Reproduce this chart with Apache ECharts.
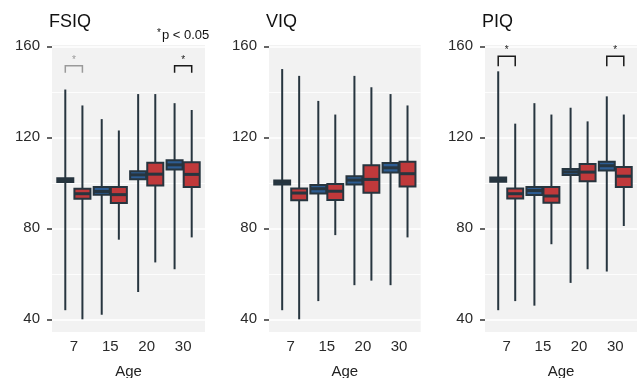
<!DOCTYPE html>
<html>
<head>
<meta charset="utf-8">
<script src="https://cdn.jsdelivr.net/npm/echarts@6/dist/echarts.min.js"></script>
<style>
  html, body { margin: 0; padding: 0; background: #fff; }
  #chart { width: 641px; height: 378px; }
</style>
</head>
<body>
<div id="chart"></div>
<script>
const ages = ["7", "15", "20", "30"];
const yTicks = [40, 80, 120, 160];

// [min, q1, median, q3, max] for each age, dark group and red group
const fsiqDark = [[44, 100.4, 101.2, 102.0, 141], [42, 94.8, 96.2, 98.1, 128], [52, 101.6, 103.5, 105.1, 139], [62, 105.9, 107.9, 109.9, 135]];
const fsiqRed  = [[40, 93.0, 95.2, 97.4, 134], [75, 91.1, 94.8, 98.1, 123], [65, 98.8, 103.8, 108.8, 139], [76, 98.1, 103.7, 109.0, 132]];
const viqDark  = [[44, 99.3, 100.2, 101.0, 150], [48, 95.3, 97.4, 99.0, 136], [55, 99.3, 101.2, 102.9, 147], [55, 104.5, 106.6, 108.7, 139]];
const viqRed   = [[40, 92.3, 95.5, 97.5, 147], [77, 92.4, 96.3, 99.5, 130], [57, 95.6, 101.5, 107.7, 142], [76, 98.4, 104.0, 109.2, 134]];
const piqDark  = [[44, 100.5, 101.4, 102.3, 149], [46, 94.6, 96.6, 98.2, 135], [56, 103.4, 104.8, 106.1, 133], [61, 105.4, 107.5, 109.3, 138]];
const piqRed   = [[48, 93.1, 95.2, 97.5, 126], [73, 91.2, 94.2, 98.2, 130], [62, 100.7, 104.7, 108.3, 127], [81, 98.1, 102.9, 107.0, 130]];

// significance brackets: [age position, top, leg end]
const fsiqBrackets = [[1, 151.4, 148.4], [4, 151.4, 148.4]];
const fsiqBracketColors = ["#9a9a9a", "#1a1a1a"];
const piqBrackets = [[1, 155.6, 151.2], [4, 155.6, 151.2]];
const piqBracketColors = ["#1a1a1a", "#1a1a1a"];

const DARK = "#27353f";
const BLUE = "#2d5c92";
const RED = "#c0393b";
const BG = "#f2f2f2";
const FONT = "Liberation Sans";
const DODGE = 0.235;
const BOX_W = 0.44;

const panels = [
  { title: "FSIQ", left: 52, right: 205, dark: fsiqDark, red: fsiqRed, brackets: fsiqBrackets, colors: fsiqBracketColors },
  { title: "VIQ", left: 269, right: 420.7, dark: viqDark, red: viqRed, brackets: [], colors: [] },
  { title: "PIQ", left: 485, right: 637, dark: piqDark, red: piqRed, brackets: piqBrackets, colors: piqBracketColors },
];

function toRows(stats) {
  return stats.map((s, i) => [i + 1].concat(s));
}

function boxRenderer(offset, fill) {
  return function (params, api) {
    const x = api.value(0) + offset;
    const lo = api.coord([x, api.value(1)]);
    const q1 = api.coord([x, api.value(2)]);
    const md = api.coord([x, api.value(3)]);
    const q3 = api.coord([x, api.value(4)]);
    const hi = api.coord([x, api.value(5)]);
    const w = api.size([BOX_W, 0])[0];
    return {
      type: "group",
      children: [
        { type: "line", shape: { x1: lo[0], y1: lo[1], x2: hi[0], y2: hi[1] }, style: { stroke: DARK, lineWidth: 2 } },
        { type: "rect", shape: { x: q3[0] - w / 2, y: q3[1], width: w, height: q1[1] - q3[1] }, style: { fill: fill, stroke: DARK, lineWidth: 2 } },
        { type: "line", shape: { x1: md[0] - w / 2, y1: md[1], x2: md[0] + w / 2, y2: md[1] }, style: { stroke: DARK, lineWidth: 3 } },
      ],
    };
  };
}

function bracketRenderer(colors) {
  return function (params, api) {
    const c = colors[params.dataIndex];
    const a = api.coord([api.value(0) - DODGE, api.value(1)]);
    const b = api.coord([api.value(0) + DODGE, api.value(1)]);
    const a2 = api.coord([api.value(0) - DODGE, api.value(2)]);
    const b2 = api.coord([api.value(0) + DODGE, api.value(2)]);
    return {
      type: "group",
      children: [
        { type: "polyline", shape: { points: [a2, a, b, b2] }, style: { stroke: c, lineWidth: 1.5, fill: null } },
        { type: "text", x: (a[0] + b[0]) / 2, y: a[1] - 1, style: { text: "*", fill: c, fontSize: 10, fontFamily: FONT, align: "center", verticalAlign: "bottom" } },
      ],
    };
  };
}

const chart = echarts.init(document.getElementById("chart"), null, { renderer: "canvas" });

const grid = [], xAxis = [], yAxis = [], series = [], title = [], graphic = [];

panels.forEach((p, i) => {
  grid.push({ left: p.left, width: p.right - p.left, top: 46.3, bottom: 58.7, containLabel: false, outerBoundsMode: "none" });
  graphic.push({ type: "rect", left: p.left, top: 45, z: -10, shape: { width: p.right - p.left, height: 287 }, style: { fill: BG } });
  title.push({ text: p.title, left: p.left - 3, top: 13, padding: 0, textStyle: { fontFamily: FONT, fontSize: 18, fontWeight: "normal", color: "#111" } });
  xAxis.push({
    type: "value", gridIndex: i, min: 0.4, max: 4.6,
    axisLine: { show: false }, axisTick: { show: false, customValues: [1, 2, 3, 4] }, splitLine: { show: false },
    axisLabel: { customValues: [1, 2, 3, 4], formatter: (v) => ages[Math.round(v) - 1], margin: 20, fontSize: 15, fontFamily: FONT, color: "#2a2a2a" },
    name: "Age", nameLocation: "middle", nameGap: 45,
    nameTextStyle: { fontSize: 15, fontFamily: FONT, color: "#222" },
  });
  yAxis.push({
    type: "value", gridIndex: i, min: 40, max: 160, interval: 40,
    axisLine: { show: false },
    axisTick: { show: true, length: 5, lineStyle: { color: "#333", width: 1.5 } },
    axisLabel: { margin: 12, fontSize: 15, fontFamily: FONT, color: "#2a2a2a" },
    splitLine: { show: true, lineStyle: { color: "#fff", width: 1.5 } },
    minorTick: { show: false, splitNumber: 2 },
    minorSplitLine: { show: true, lineStyle: { color: "#fff", width: 0.8 } },
  });
  series.push({ type: "custom", xAxisIndex: i, yAxisIndex: i, renderItem: boxRenderer(-DODGE, BLUE), data: toRows(p.dark), z: 3 });
  series.push({ type: "custom", xAxisIndex: i, yAxisIndex: i, renderItem: boxRenderer(DODGE, RED), data: toRows(p.red), z: 3 });
  if (p.brackets.length) {
    series.push({ type: "custom", xAxisIndex: i, yAxisIndex: i, renderItem: bracketRenderer(p.colors), data: p.brackets, z: 4 });
  }
});

title.push({ text: "{s|*}p < 0.05", left: 157, top: 28, padding: 0, textStyle: { fontFamily: FONT, fontSize: 13, fontWeight: "normal", color: "#111", rich: { s: { fontSize: 10, fontFamily: FONT, color: "#111", verticalAlign: "top", padding: [0, 1, 4, 0] } } } });

chart.setOption({
  animation: false,
  backgroundColor: "#fff",
  title: title,
  grid: grid,
  xAxis: xAxis,
  yAxis: yAxis,
  graphic: graphic,
  series: series,
});
</script>
</body>
</html>
